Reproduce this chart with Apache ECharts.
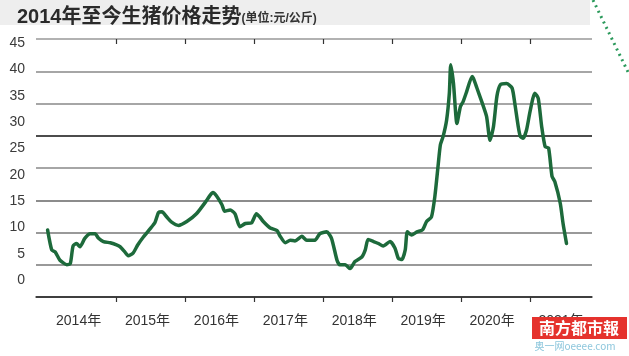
<!DOCTYPE html>
<html><head><meta charset="utf-8">
<script src="https://cdn.jsdelivr.net/npm/echarts@6/dist/echarts.min.js"></script>
<style>html,body{margin:0;padding:0;background:#fff}#c{width:629px;height:356px}</style>
</head><body><div id="c"></div>
<script>
// x position as fractional year, y = live hog price (元/公斤)
const years = [
 2014.00,2014.06,2014.11,2014.18,2014.28,2014.33,2014.37,2014.42,2014.47,2014.54,2014.62,2014.69,2014.74,2014.81,2014.91,
 2015.00,2015.05,2015.12,2015.17,2015.24,2015.31,2015.39,2015.49,2015.56,2015.61,2015.66,2015.73,2015.80,2015.90,
 2016.02,2016.16,2016.31,2016.36,2016.40,2016.45,2016.53,2016.57,2016.65,2016.72,2016.79,2016.87,2016.96,
 2017.03,2017.08,2017.13,2017.23,2017.33,2017.37,2017.45,2017.52,2017.59,2017.69,2017.76,2017.88,2017.95,
 2018.05,2018.12,2018.20,2018.24,2018.32,2018.39,2018.46,2018.56,2018.61,2018.65,2018.73,2018.80,2018.87,2018.97,
 2019.04,2019.09,2019.14,2019.19,2019.22,2019.28,2019.36,2019.44,2019.50,2019.57,2019.62,2019.67,2019.70,2019.74,2019.79,2019.83,2019.85,2019.89,2019.94,2019.99,
 2020.03,2020.08,2020.16,2020.18,2020.23,2020.30,2020.37,2020.42,2020.47,2020.52,2020.57,2020.66,2020.74,2020.78,2020.83,2020.86,2020.90,2020.95,
 2021.00,2021.07,2021.12,2021.17,2021.22,2021.27,2021.32,2021.36,2021.44,2021.48,2021.53
];
const prices = [
 15.4,12.3,12.0,10.7,10.0,10.2,12.9,13.3,12.8,14.1,14.8,14.8,14.1,13.6,13.4,
 13.1,12.8,12.0,11.4,11.8,13.1,14.3,15.6,16.6,18.1,18.2,17.4,16.6,16.1,
 16.7,17.9,20.0,20.8,21.2,20.7,19.3,18.3,18.5,17.9,15.9,16.4,16.5,
 17.9,17.4,16.7,15.7,15.3,14.5,13.4,13.8,13.7,14.4,13.8,13.8,14.8,
 15.1,14.1,10.7,10.0,10.0,9.4,10.5,11.2,12.3,13.9,13.6,13.3,12.9,13.6,
 12.6,11.0,10.8,12.3,15.1,14.6,15.1,15.4,16.7,17.4,20.6,25.7,28.6,29.9,32.4,36.6,41.0,38.1,31.9,34.5,
 35.3,36.8,39.2,38.9,37.4,35.3,33.0,29.3,31.4,36.1,37.9,38.1,37.4,35.0,31.4,29.9,29.6,30.9,
 33.7,36.6,35.8,31.4,28.3,28.1,23.7,22.9,19.5,16.4,13.3
];
const yearTicks = [2015,2016,2017,2018,2019,2020,2021];
const yearLabels = ['2014年','2015年','2016年','2017年','2018年','2019年','2020年','2021年'];
const yTickLabels = [0,5,10,15,20,25,30,35,40,45];
const titleText = '2014年至今生猪价格走势';
const unitText = '(单位:元/公斤)';

const FONT = '"Liberation Sans","Noto Sans CJK SC",sans-serif';
const firstYear = 2014;
const labelPos = yearLabels.map((s, i) => firstYear + i + 0.45);

const chart = echarts.init(document.getElementById('c'), null, {renderer: 'canvas'});
chart.setOption({
  animation: false,
  backgroundColor: '#ffffff',
  textStyle: {fontFamily: FONT},
  title: {
    left: 12, top: 2,
    text: '{a|' + titleText + '}{b|' + unitText + '}',
    textStyle: {
      rich: {
        a: {fontSize: 20, fontWeight: 'bold', color: '#2a2a2a', fontFamily: FONT},
        b: {fontSize: 12, fontWeight: 'bold', color: '#333', fontFamily: FONT, padding: [4, 0, 0, 0]}
      }
    }
  },
  graphic: [
    {type: 'rect', z: -10, shape: {x: 0, y: 0, width: 590, height: 25}, style: {fill: '#eeeeee'}},
    {type: 'line', z: 10, shape: {x1: 593, y1: 0, x2: 628, y2: 72}, style: {stroke: '#2c9a5c', lineWidth: 3, lineDash: [2, 4]}},
    {type: 'rect', z: 20, shape: {x: 532, y: 317, width: 95, height: 22}, style: {fill: '#e5322d'}},
    {type: 'text', z: 21, x: 579, y: 328, style: {text: '南方都市報', fill: '#fff', font: 'bold 16px "Noto Sans CJK SC"', align: 'center', verticalAlign: 'middle'}},
    {type: 'text', z: 21, x: 575, y: 346, style: {text: '奥一网oeeee.com', fill: '#8cc6dc', font: '10px "Noto Sans CJK SC"', align: 'center', verticalAlign: 'middle'}}
  ],
  grid: [
    {left: 36, right: 37, top: 39, bottom: 59},
    {left: 36, right: 37, top: 43, bottom: 76}
  ],
  xAxis: [
    {
      type: 'value', gridIndex: 0, min: 2013.832, max: 2021.9,
      axisLine: {show: true, lineStyle: {color: '#333', width: 1.5}},
      axisTick: {show: true, customValues: yearTicks, length: 5, lineStyle: {color: '#333', width: 1.2}},
      axisLabel: {
        show: true, customValues: labelPos, margin: 17, fontSize: 14, color: '#333', fontFamily: FONT,
        formatter: v => yearLabels[Math.floor(v) - firstYear] || ''
      },
      splitLine: {show: false}
    },
    {
      type: 'value', gridIndex: 0, min: 2013.832, max: 2021.9,
      axisLine: {show: false},
      axisTick: {show: true, inside: true, customValues: yearTicks, length: 5, lineStyle: {color: '#333', width: 1.2}},
      axisLabel: {show: false}, splitLine: {show: false}
    },
    {type: 'value', gridIndex: 1, min: 0, max: 1, show: false}
  ],
  yAxis: [
    {
      type: 'value', gridIndex: 0, min: 5, max: 45, interval: 5,
      axisLine: {show: false}, axisTick: {show: false}, axisLabel: {show: false},
      splitLine: {show: true, lineStyle: {width: 1.5, color: ['#333', '#777', '#777', '#666', '#888', '#111', '#888', '#888', '#999']}}
    },
    {
      type: 'value', gridIndex: 1, min: 0, max: 45, interval: 5,
      axisLine: {show: false}, axisTick: {show: false}, splitLine: {show: false},
      axisLabel: {show: true, margin: 11, fontSize: 14, color: '#3a3a3a', fontFamily: FONT,
        formatter: v => (yTickLabels.indexOf(v) >= 0 ? String(v) : '')}
    }
  ],
  series: [{
    type: 'line', xAxisIndex: 0, yAxisIndex: 0,
    data: years.map((y, i) => [y, prices[i]]),
    showSymbol: false, smooth: 0.2,
    lineStyle: {color: '#1d6a3b', width: 3.5, cap: 'round', join: 'round'},
    z: 5
  }]
});
</script>
</body></html>
